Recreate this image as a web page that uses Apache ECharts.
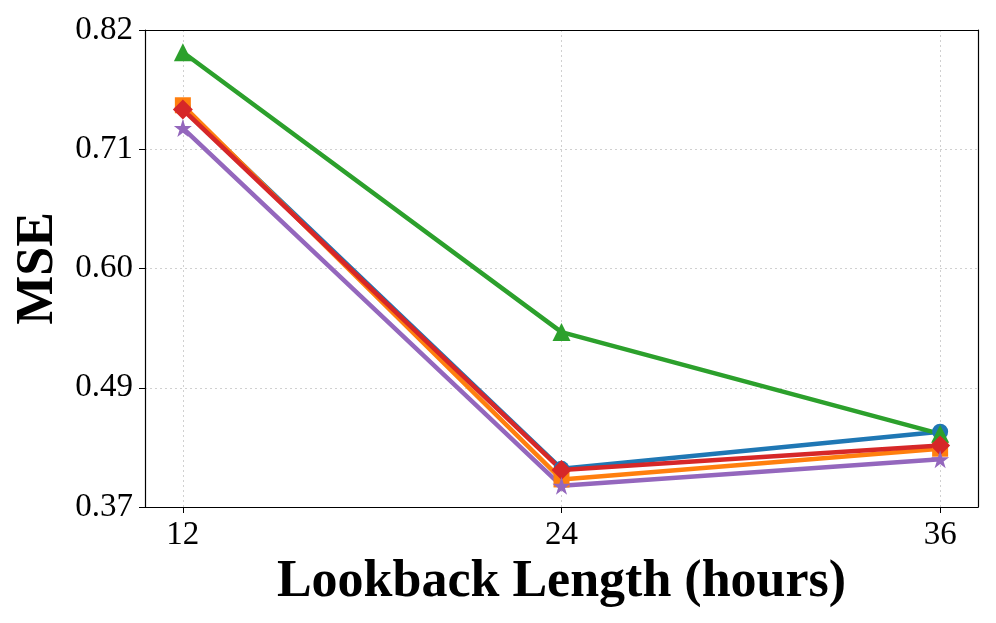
<!DOCTYPE html>
<html><head><meta charset="utf-8">
<script src="https://cdn.jsdelivr.net/npm/echarts@6/dist/echarts.min.js"></script>
<style>html,body{margin:0;padding:0;background:#fff}#c{width:996px;height:623px}</style>
</head><body><div id="c"></div>
<script>
const xValues = [12, 24, 36];
const xTickValues = [12, 24, 36];
const yTickValues = [0.37, 0.4825, 0.595, 0.7075, 0.82];
const yTickLabels = ['0.37', '0.49', '0.60', '0.71', '0.82'];
const seriesBlue = [0.747, 0.406, 0.441];
const seriesOrange = [0.749, 0.396, 0.425];
const seriesGreen = [0.799, 0.535, 0.439];
const seriesRed = [0.745, 0.405, 0.428];
const seriesPurple = [0.7275, 0.390, 0.415];

const star = 'path://M50,0 L61.8,35.1 L98.9,35.1 L68.8,56.9 L80.2,92.1 L50,70.4 L19.8,92.1 L31.2,56.9 L1.1,35.1 L38.2,35.1 Z';
const font = 'Liberation Serif';
const gridStyle = { color: '#d0d0d0', type: [2, 3], width: 1 };
function mk(name, data, color, symbol, size, extra) {
  return Object.assign({
    name, type: 'line', data: xValues.map((x, i) => [x, data[i]]),
    symbol, symbolSize: size, showSymbol: true,
    lineStyle: { color, width: 4.5 }, itemStyle: { color },
    animation: false, z: 3
  }, extra || {});
}
const frameAxis = { show: true, axisLine: { show: true, onZero: false, lineStyle: { color: '#000', width: 1.2 } },
  axisTick: { show: false }, axisLabel: { show: false }, splitLine: { show: false } };
const chart = echarts.init(document.getElementById('c'));
chart.setOption({
  backgroundColor: '#fff',
  animation: false,
  grid: { left: 145, right: 18, top: 30, bottom: 116, containLabel: false, outerBoundsMode: 'none' },
  xAxis: [{
    type: 'value', min: 10.8, max: 37.2,
    name: 'Lookback Length (hours)', nameLocation: 'middle', nameGap: 46,
    nameTextStyle: { fontFamily: font, fontWeight: 'bold', fontSize: 52, color: '#000' },
    axisLine: { onZero: false, lineStyle: { color: '#000', width: 1.2 } },
    axisTick: { show: true, length: 6, lineStyle: { color: '#000' }, customValues: xTickValues },
    axisLabel: { customValues: xTickValues, fontFamily: font, fontSize: 33, color: '#000', margin: 12 },
    splitLine: { show: false }
  }, Object.assign({ type: 'value', position: 'top', min: 10.8, max: 37.2 }, frameAxis)],
  yAxis: [{
    type: 'value', min: 0.37, max: 0.82,
    name: 'MSE', nameLocation: 'middle', nameGap: 80,
    nameTextStyle: { fontFamily: font, fontWeight: 'bold', fontSize: 52, color: '#000' },
    axisLine: { show: true, onZero: false, lineStyle: { color: '#000', width: 1.2 } },
    axisTick: { show: true, length: 6, lineStyle: { color: '#000' }, customValues: yTickValues },
    axisLabel: { customValues: yTickValues, fontFamily: font, fontSize: 33, color: '#000', margin: 12,
      formatter: (v) => { let bi = 0; yTickValues.forEach((t, i) => { if (Math.abs(t - v) < Math.abs(yTickValues[bi] - v)) bi = i; }); return yTickLabels[bi]; } },
    splitLine: { show: true, showMinLine: false, showMaxLine: false, lineStyle: gridStyle }
  }, Object.assign({ type: 'value', position: 'right', min: 0.37, max: 0.82 }, frameAxis)],
  series: [
    mk('Blue', seriesBlue, '#1f77b4', 'circle', 16, {
      markLine: { silent: true, symbol: 'none', label: { show: false }, lineStyle: gridStyle, z: 0,
        data: xTickValues.map(v => ({ xAxis: v })) }
    }),
    mk('Orange', seriesOrange, '#ff7f0e', 'rect', 16),
    mk('Green', seriesGreen, '#2ca02c', 'triangle', 18),
    mk('Red', seriesRed, '#d62728', 'diamond', 20),
    mk('Purple', seriesPurple, '#9467bd', star, 18)
  ]
});
</script></body></html>
